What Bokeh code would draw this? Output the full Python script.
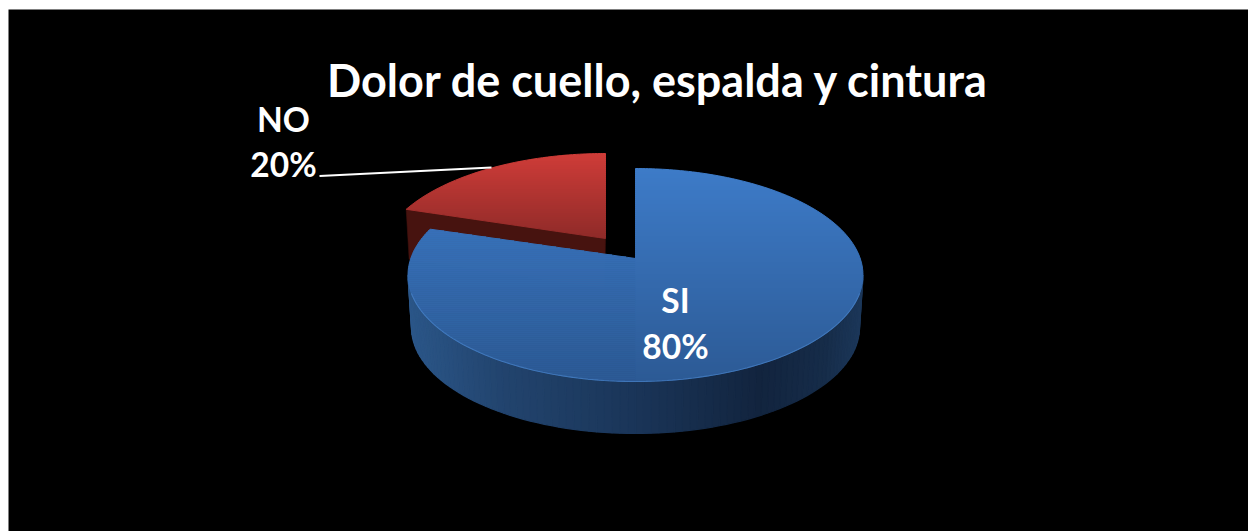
import math
from bokeh.plotting import figure
from bokeh.models import Range1d, ColumnDataSource
from bokeh.core.properties import value
from bokeh.embed import file_html
from bokeh.resources import INLINE

chart_title = "Dolor de cuello, espalda y cintura"
categories = ["SI", "NO"]
percents = [80, 20]
percent_labels = ["80%", "20%"]

FONT = value("Lato")
BLUE_TOP = [(168, "#3d7bc8"), (381, "#2c5a95")]
RED_TOP = [(153, "#cf3c38"), (240, "#8e2a28")]
BLUE_SIDE = [(408, "#2b5688"), (500, "#22446e"), (635, "#1a3558"),
             (760, "#12243e"), (825, "#162c49"), (860, "#1c3759")]
RED_SIDE = "#47130f"
RIM = "#4c88d0"


def lerp_hex(stops, t):
    if t <= stops[0][0]:
        return stops[0][1]
    for (a, ca), (b, cb) in zip(stops, stops[1:]):
        if t <= b:
            f = (t - a) / (b - a)
            rgb = [round(int(ca[i:i + 2], 16) * (1 - f) + int(cb[i:i + 2], 16) * f) for i in (1, 3, 5)]
            return "#%02x%02x%02x" % tuple(rgb)
    return stops[-1][1]


def rim(cx, cy, rx, ry, deg):
    r = math.radians(deg)
    return (cx + rx * math.sin(r), cy - ry * math.cos(r))


def warp(deg, k):
    # foreshortening of the tilted pie: screen angle differs from true angle
    return deg + k * math.sin(math.radians(2 * deg))


def clip(poly, y0, keep_below):
    out = []
    inside = (lambda p: p[1] >= y0) if keep_below else (lambda p: p[1] <= y0)
    for i, a in enumerate(poly):
        b = poly[(i + 1) % len(poly)]
        if inside(a):
            out.append(a)
        if inside(a) != inside(b):
            f = (y0 - a[1]) / (b[1] - a[1])
            out.append((a[0] + f * (b[0] - a[0]), y0))
    return out


def bands(poly, stops, step, xs, ys, cols):
    ymin, ymax = min(q[1] for q in poly), max(q[1] for q in poly)
    y = ymin
    while y < ymax:
        piece = clip(clip(poly, y, True), y + step, False)
        if len(piece) >= 3:
            xs.append([q[0] for q in piece])
            ys.append([q[1] for q in piece])
            cols.append(lerp_hex(stops, y + step / 2))
        y += step


total = sum(percents)
si_sweep = 360 * percents[0] / total
no_sweep = 360 * percents[1] / total

p = figure(width=1240, height=522, margin=(9, 0, 0, 8), output_backend="svg", toolbar_location=None,
           x_range=Range1d(8, 1248), y_range=Range1d(531, 9), min_border=0,
           background_fill_color="black", border_fill_color="black", outline_line_color=None)
p.axis.visible = False
p.grid.visible = False

# --- NO slice (exploded, behind) ---
RC = (605, 260, 227, 107)
r_apex = (605, 238)
r_angles = [warp(si_sweep + no_sweep * i / 40, -18) for i in range(41)]
r_arc = [rim(*RC, a) for a in r_angles]
DEPTH = 50
r_left = r_arc[0]
p.patch([r_left[0], r_apex[0], r_apex[0] - 1, r_left[0] + 3],
        [r_left[1], r_apex[1], r_apex[1] + DEPTH, r_left[1] + DEPTH],
        fill_color=RED_SIDE, line_color=RED_SIDE, line_width=0.5)
xs, ys, cols = [], [], []
bands(r_arc + [r_apex], RED_TOP, 2, xs, ys, cols)
p.patches("xs", "ys", fill_color="c", line_color="c", line_width=1,
          source=ColumnDataSource(dict(xs=xs, ys=ys, c=cols)))

# --- SI slice ---
BC = (635, 274.5, 227.5, 106.5)
BB = (635, 327, 224, 106)
b_apex = (635, 258)
xs, ys, cols = [], [], []
N = 90
for i in range(N):
    a0, a1 = 90 + 180 * i / N, 90 + 180 * (i + 1) / N
    t0, t1 = rim(*BC, a0), rim(*BC, a1)
    d0, d1 = rim(*BB, a0), rim(*BB, a1)
    xs.append([t0[0], t1[0], d1[0], d0[0]])
    ys.append([t0[1], t1[1], d1[1], d0[1]])
    cols.append(lerp_hex(BLUE_SIDE, (t0[0] + t1[0]) / 2))
p.patches("xs", "ys", fill_color="c", line_color="c", line_width=1.2,
          source=ColumnDataSource(dict(xs=xs, ys=ys, c=cols)))

# the top face is cut at the bottom of the circle so each part is convex
half = [rim(*BC, warp(180 * i / 120, -12.75)) for i in range(121)]
rest = [rim(*BC, warp(180 + (si_sweep - 180) * i / 120, -12.75)) for i in range(121)]
xs, ys, cols = [], [], []
bands(half, BLUE_TOP, 2, xs, ys, cols)
bands(rest + [b_apex], BLUE_TOP, 2, xs, ys, cols)
p.patches("xs", "ys", fill_color="c", line_color="c", line_width=1,
          source=ColumnDataSource(dict(xs=xs, ys=ys, c=cols)))
front = [rim(*BC, 100 + 160 * i / 120) for i in range(121)]
p.line([q[0] for q in front], [q[1] for q in front], line_color=RIM, line_width=1.1, line_alpha=0.6)

# --- leader line and labels ---
p.line([319, 491], [175.5, 167], line_color="white", line_width=2)

FS = "33.5px"
p.text([658], [79.5], text=[chart_title], text_color="white", text_font=FONT, text_font_style="bold",
       text_font_size="45px", text_align="center", text_baseline="middle")
p.text([675, 675], [299, 345], text=[categories[0], percent_labels[0]], text_color="white", text_font=FONT,
       text_font_style="bold", text_font_size=FS, text_align="center", text_baseline="middle")
p.text([283, 283], [118, 163], text=[categories[1], percent_labels[1]], text_color="white", text_font=FONT,
       text_font_style="bold", text_font_size=FS, text_align="center", text_baseline="middle")

open("out.html", "w").write(file_html(p, INLINE))
